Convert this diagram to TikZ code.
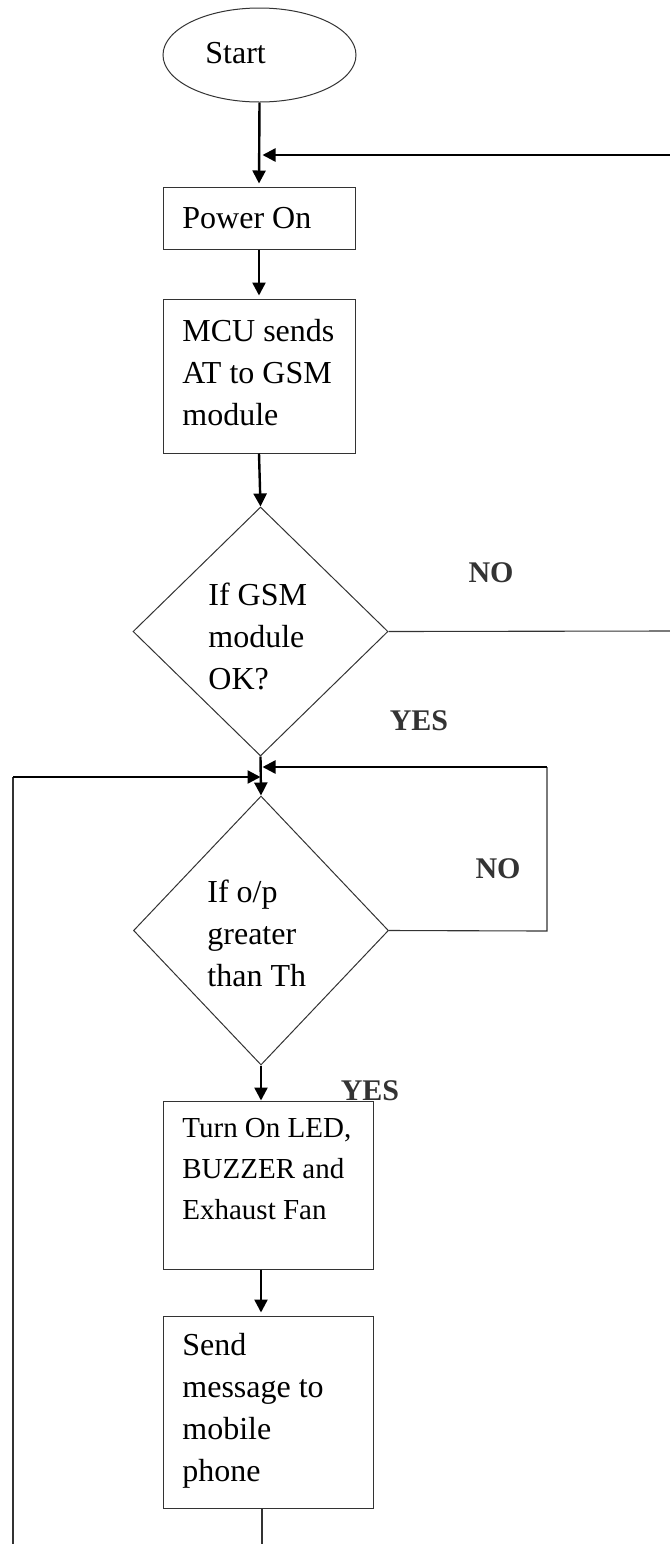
\documentclass[tikz,border=0pt]{standalone}
\usepackage{fontspec}
\setmainfont{Liberation Serif}
\usetikzlibrary{shapes.geometric,arrows.meta,calc}
\begin{document}
\begin{tikzpicture}[x=0.5pt,y=-0.5pt,
  shapeline/.style={draw=black!80, line width=0.5pt, inner sep=0pt},
  boxnode/.style={shapeline, rectangle},
  txt/.style={anchor=west, inner sep=0pt, align=left, font=\fontsize{16pt}{21pt}\selectfont},
  smalltxt/.style={anchor=west, inner sep=0pt, align=left, font=\fontsize{14.5pt}{20.5pt}\selectfont},
  lbl/.style={inner sep=0pt, font=\fontsize{15pt}{18pt}\selectfont\bfseries, text=black!80},
  flow/.style={line width=1.2pt, -{Triangle[length=6.5pt,width=6.5pt]}},
  thinline/.style={line width=0.55pt, draw=black!80}]
\useasboundingbox (0,0) rectangle (670,1544);

% shapes
\node[shapeline, ellipse, minimum width=96.5pt, minimum height=47pt] (start) at (259.5,55) {};
\node[boxnode, minimum width=96pt, minimum height=31pt] (power) at (259,218) {};
\node[boxnode, minimum width=96pt, minimum height=77pt] (mcu) at (259,376) {};
\node[shapeline, diamond, minimum width=127.5pt, minimum height=124.5pt] (d1) at (260.5,631.5) {};
\node[shapeline, diamond, minimum width=127.5pt, minimum height=134.5pt] (d2) at (261,930.5) {};
\node[boxnode, minimum width=105pt, minimum height=84pt] (turn) at (268,1185) {};
\node[boxnode, minimum width=105pt, minimum height=96pt] (send) at (268,1412) {};

% texts
\node[txt] (startT) at (205,53) {Start};
\node[txt] (powerT) at (182,218) {Power On};
\node[txt] (mcuT) at (182,373) {MCU sends\\AT to GSM\\module};
\node[txt] (d1T) at (208,636) {If GSM\\module\\OK?};
\node[txt] (d2T) at (207,933) {If o/p\\greater\\than Th};
\node[smalltxt] (turnT) at (182,1169) {Turn On LED,\\BUZZER and\\Exhaust Fan};
\node[txt] (sendT) at (182,1411) {Send\\message to\\mobile\\phone};

% labels
\node[lbl] (no1) at (491,573) {NO};
\node[lbl] (yes1) at (419,721) {YES};
\node[lbl] (no2) at (498,869) {NO};
\node[lbl] (yes2) at (370,1091) {YES};

% free ends
\coordinate (topin) at (670,155);
\coordinate (noend) at (670,631);
\coordinate (loopTR) at (547,767);
\coordinate (loopBR) at (547,931);
\coordinate (lefttop) at (13,777);
\coordinate (leftbot) at (13,1544);
\coordinate (sendbot) at (262,1544);

% connectors
\draw[flow, shorten >=1.5pt] (start.south) -- (power.north);
\draw[flow, shorten >=1.5pt] (topin) -- (start.south |- topin);
\draw[flow, shorten >=1.5pt] (power.south) -- (mcu.north);
\draw[flow] (mcu.south) -- (d1.north);
\draw[thinline] (d1.east) -- (noend);
\draw[flow] (d1.south) -- (d2.north);
\draw[thinline] (d2.east) -- (loopBR) -- (loopTR);
\draw[flow, shorten >=1pt] (loopTR) -- (d1.south |- loopTR);
\draw[thinline] (leftbot) -- (lefttop);
\draw[flow] (lefttop) -- (d1.south |- lefttop);
\draw[flow] (d2.south) -- (turn.north -| d2.south);
\draw[flow, shorten >=1.5pt] (turn.south -| d2.south) -- (send.north -| d2.south);
\draw[thinline] (send.south -| sendbot) -- (sendbot);
\end{tikzpicture}
\end{document}
